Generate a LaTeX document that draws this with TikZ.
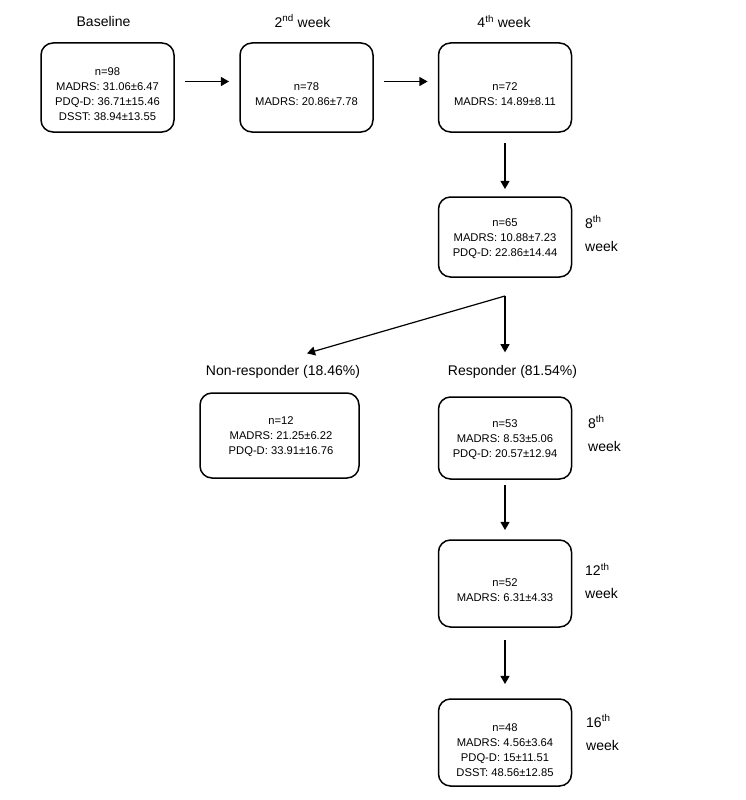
\documentclass[tikz,border=0pt]{standalone}
\usepackage{fontspec}
\setmainfont{Liberation Sans}
\usepackage{tikz}
\usetikzlibrary{arrows}
\usetikzlibrary{positioning}
\newcommand*{\statfont}{\fontsize{11.2}{15}\selectfont}
\newcommand*{\headfont}{\fontsize{14}{17}\selectfont}
\newcommand*{\sidefont}{\fontsize{14}{23}\selectfont}
\tikzstyle{frame}=[draw=black, line width=1.5pt, rounded corners=12pt, minimum width=133pt, inner sep=0pt, outer sep=0pt]
\tikzstyle{stats}=[align=center, inner sep=0pt, font=\statfont]
\tikzstyle{head}=[inner sep=0pt, font=\headfont]
\tikzstyle{side}=[anchor=west, align=left, inner sep=0pt, font=\sidefont]
\tikzstyle{flow}=[-triangle 60, line width=1.2pt, shorten <=11pt, shorten >=11pt]

\begin{document}
\begin{tikzpicture}[x=1pt, y=-1pt]
    \useasboundingbox (0,0) rectangle (746,800);
    % top row
    \node [head] (basehead) at (103.5,21) {Baseline};
    \node [head] (wktwohead) at (302.5,21) {2\textsuperscript{nd} week};
    \node [head] (wkfourhead) at (504,21.5) {4\textsuperscript{th} week};
    \node [frame, minimum height=89pt] (base) at (107.5,87.5) {};
    \node [frame, minimum height=89pt] (wktwo) at (306.5,87.5) {};
    \node [frame, minimum height=89pt] (wkfour) at (505,87.5) {};
    \node [stats] (basetxt) at (107.5,94) {n=98\\MADRS: 31.06±6.47\\PDQ-D: 36.71±15.46\\DSST: 38.94±13.55};
    \node [stats] (wktwotxt) at (306.5,94) {n=78\\MADRS: 20.86±7.78};
    \node [stats] (wkfourtxt) at (505,94) {n=72\\MADRS: 14.89±8.11};
    % 8th week, all patients
    \node [frame, minimum height=80pt] (wkeight) at (505,237) {};
    \node [stats] (wkeighttxt) at (505,239) {n=65\\MADRS: 10.88±7.23\\PDQ-D: 22.86±14.44};
    \node [side] (wkeightside) at (585,233.5) {8\textsuperscript{th}\\week};
    % split
    \coordinate (split) at ([yshift=-19pt]wkeight.south);
    \node [head] (nonresphead) at (283,372) {Non-responder (18.46\%)};
    \node [head] (resphead) at (512.5,372) {Responder (81.54\%)};
    \node [frame, minimum width=159pt, minimum height=85pt] (nonresp) at (279.5,435.5) {};
    \node [stats] (nonresptxt) at (281,436.5) {n=12\\MADRS: 21.25±6.22\\PDQ-D: 33.91±16.76};
    \node [frame, minimum height=82pt] (resp) at (505,438) {};
    \node [stats] (resptxt) at (505,440) {n=53\\MADRS: 8.53±5.06\\PDQ-D: 20.57±12.94};
    \node [side] (respside) at (588,433.5) {8\textsuperscript{th}\\week};
    % follow-up of responders
    \node [frame, minimum height=87pt] (wktwelve) at (505,583.5) {};
    \node [stats] (wktwelvetxt) at (505,590) {n=52\\MADRS: 6.31±4.33};
    \node [side] (wktwelveside) at (585,581) {12\textsuperscript{th}\\week};
    \node [frame, minimum height=87pt] (wksixteen) at (505,742.5) {};
    \node [stats] (wksixteentxt) at (505,750) {n=48\\MADRS: 4.56±3.64\\PDQ-D: 15±11.51\\DSST: 48.56±12.85};
    \node [side] (wksixteenside) at (586,732.5) {16\textsuperscript{th}\\week};
    % arrows
    \draw [flow] ([yshift=6pt]base.east) -- ([yshift=6pt]wktwo.west);
    \draw [flow] ([yshift=6pt]wktwo.east) -- ([yshift=6pt]wkfour.west);
    \draw [flow, shorten >=8pt] (wkfour) -- (wkeight);
    \draw [flow, shorten <=0pt, shorten >=13pt] (split) -- (split |- resphead.north);
    \draw [flow, shorten <=0pt, shorten >=25pt] (split) -- ([yshift=5pt]nonresphead.north);
    \draw [flow, shorten <=6pt, shorten >=10pt] (resp) -- (wktwelve);
    \draw [flow, shorten <=13pt, shorten >=15pt] (wktwelve) -- (wksixteen);
\end{tikzpicture}
\end{document}
